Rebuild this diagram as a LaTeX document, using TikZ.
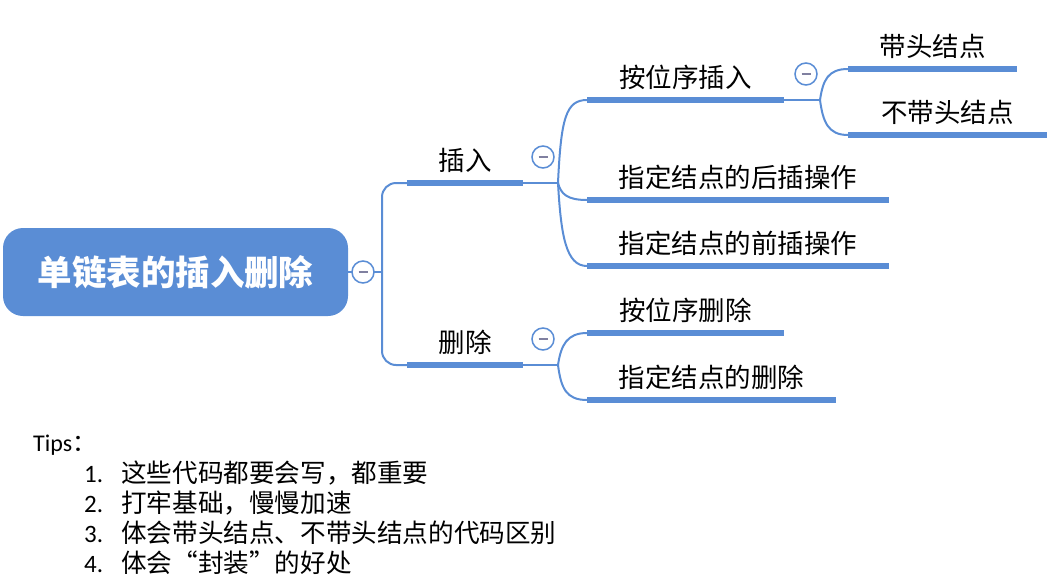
\documentclass[tikz,border=0pt]{standalone}
\usepackage{fontspec}
\setmainfont{Carlito}
\newfontfamily\cjk{Noto Sans CJK SC}
\definecolor{mblue}{HTML}{5A8DD5}
\definecolor{minusc}{HTML}{8080A0}
\begin{document}
\begin{tikzpicture}[x=1pt,y=-1pt,
  conn/.style={draw=mblue,line width=2pt},
  ul/.style={draw=mblue,line width=6pt},
  topic/.style={font=\cjk\fontsize{26.5}{26.5}\selectfont, inner sep=0pt, text height=27pt, text depth=12pt, anchor=south west, align=center},
  fold/.style={circle,draw=mblue,line width=1.5pt,fill=white,minimum size=22pt,inner sep=0pt,
    path picture={\draw[minusc,line width=1.5pt] ([xshift=-4.5pt]path picture bounding box.center) -- ([xshift=4.5pt]path picture bounding box.center);}},
  rootbox/.style={fill=mblue,rounded corners=20pt,minimum width=345pt,minimum height=88pt,text=white,inner sep=0pt,
    font=\cjk\bfseries\fontsize{34.5}{34.5}\selectfont},
  tipnum/.style={anchor=base west,inner sep=0pt,font=\fontsize{25}{25}\selectfont},
  tiptext/.style={anchor=base west,inner sep=0pt,font=\cjk\fontsize{25.6}{25.6}\selectfont},
]
\useasboundingbox (0,0) rectangle (1052,581);
% root
\node[rootbox] (root) at (175.5,272) {单链表的插入删除};
% topics
\node[topic,minimum width=116pt] (ins) at (407,183) {插入};
\node[topic,minimum width=116pt] (del) at (407,365) {删除};
\node[topic,minimum width=197pt] (a1) at (587,100) {按位序插入};
\node[topic,minimum width=302pt] (a2) at (587,200) {指定结点的后插操作};
\node[topic,minimum width=302pt] (a3) at (587,266) {指定结点的前插操作};
\node[topic,minimum width=197pt] (b1) at (587,333) {按位序删除};
\node[topic,minimum width=249pt] (b2) at (587,400) {指定结点的删除};
\node[topic,minimum width=169pt] (c1) at (848,69) {带头结点};
\node[topic,minimum width=199pt] (c2) at (848,135) {不带头结点};
% connectors
\coordinate (t) at (382,272);
\coordinate (j1) at (558,183);
\coordinate (j2) at (558,365);
\coordinate (j3) at (820,100);
\draw[conn] (root.east) -- (363,272);
\draw[conn] (363,272) -- (t);
\draw[conn,rounded corners=14pt] (ins.south west) -| (t) |- (del.south west);
\draw[conn] (ins.south east) -- (j1);
\draw[conn] (del.south east) -- (j2);
\draw[conn] (a1.south east) -- (j3);
\draw[conn] (j1) .. controls (561,118) and (566,100) .. (a1.south west);
\draw[conn] (j1) .. controls (561,194) and (567,200) .. (a2.south west);
\draw[conn] (j1) .. controls (561,236) and (566,266) .. (a3.south west);
\draw[conn] (j2) .. controls (561,345) and (567,333) .. (b1.south west);
\draw[conn] (j2) .. controls (561,388) and (566,400) .. (b2.south west);
\draw[conn] (j3) .. controls (823,80) and (828,69) .. (c1.south west);
\draw[conn] (j3) .. controls (823,122) and (828,135) .. (c2.south west);
% underlines
\foreach \n in {ins,del,a1,a2,a3,b1,b2,c1,c2}
  \draw[ul] (\n.south west) -- (\n.south east);
% fold markers
\node[fold] (f0) at (363,272) {};
\node[fold] (f1) at (543,157) {};
\node[fold] (f2) at (543,339) {};
\node[fold] (f3) at (806,74) {};
% tips
\node[anchor=base west,inner sep=0pt,font=\fontsize{24}{24}\selectfont] (tips) at (33,451) {Tips{\cjk ：}};
\node[tipnum] (n1) at (84,482.5) {1.};
\node[tiptext] (t1) at (121,482.5) {这些代码都要会写，都重要};
\node[tipnum] (n2) at (84,512.5) {2.};
\node[tiptext] (t2) at (121,512.5) {打牢基础，慢慢加速};
\node[tipnum] (n3) at (84,542.5) {3.};
\node[tiptext] (t3) at (121,542.5) {体会带头结点、不带头结点的代码区别};
\node[tipnum] (n4) at (84,572.5) {4.};
\node[tiptext] (t4) at (121,572.5) {体会“封装”的好处};
\end{tikzpicture}
\end{document}
